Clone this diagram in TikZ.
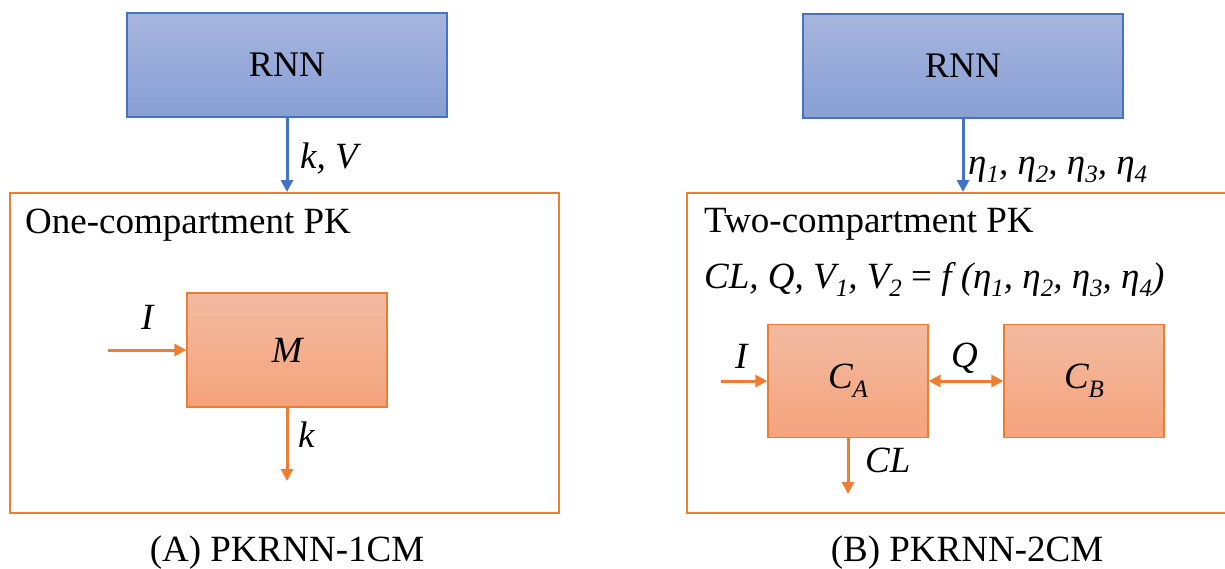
\documentclass[tikz,border=0pt]{standalone}
\usepackage{fontspec}
\setmainfont{Liberation Serif}
\usetikzlibrary{arrows.meta}
\definecolor{bluebd}{HTML}{4472C4}
\definecolor{bluetop}{HTML}{A6B5DE}
\definecolor{bluebot}{HTML}{889FD4}
\definecolor{orbd}{HTML}{ED7D31}
\definecolor{ortop}{HTML}{F2BBA1}
\definecolor{orbot}{HTML}{F5A37C}
\newcommand{\sbs}[1]{\raisebox{-0.24em}{\fontsize{25}{30}\selectfont #1}}
\begin{document}
\begin{tikzpicture}[x=1pt,y=-1pt,
  every node/.style={font=\fontsize{37}{44}\selectfont},
  rnnbox/.style={draw=bluebd, line width=1.5pt, top color=bluetop, bottom color=bluebot,
    minimum width=320pt, minimum height=104pt, inner sep=0pt, font=\fontsize{36}{43}\selectfont},
  pkbox/.style={draw=orbd, line width=2pt, inner sep=0pt},
  compbox/.style={draw=orbd, line width=1.2pt, top color=ortop, bottom color=orbot,
    inner sep=0pt, font=\fontsize{37}{44}\selectfont\itshape},
  lbl/.style={inner sep=0pt, anchor=base west, font=\fontsize{37}{44}\selectfont\itshape},
  ttl/.style={inner sep=0pt, anchor=base west},
  captext/.style={inner sep=0pt, anchor=base},
  bluearrow/.style={draw=bluebd, line width=3pt, -{Triangle[length=12pt,width=12pt]}},
  orarrow/.style={draw=orbd, line width=3pt, -{Triangle[length=12pt,width=12pt]}},
  orbiarrow/.style={draw=orbd, line width=3pt, {Triangle[length=12pt,width=12pt]}-{Triangle[length=12pt,width=12pt]}}
]
\useasboundingbox (0,0) rectangle (1225,568);

% ---------- (A) ----------
\node[rnnbox] (rnnA) at (287,65) {RNN};
\node[pkbox, minimum width=549pt, minimum height=320pt] (pkA) at (284.5,353) {};
\draw[bluearrow] (rnnA.south) -- (rnnA.south |- pkA.north);
\node[lbl] (kvA) at (300,168) {k, V};
\node[ttl] (titleA) at (25,233) {One-compartment PK};
\node[compbox, minimum width=200pt, minimum height=114pt] (mA) at (287,350) {M};
\coordinate (inA) at (108,350);
\coordinate (outA) at (287,481);
\draw[orarrow] (inA) -- (mA.west);
\draw[orarrow] (mA.south) -- (outA);
\node[lbl] (iA) at (141,329) {I};
\node[lbl] (kA) at (298,447) {k};
\node[captext] (capA) at (287,561) {(A) PKRNN-1CM};

% ---------- (B) ----------
\node[rnnbox] (rnnB) at (963,66) {RNN};
\node[pkbox, minimum width=545pt, minimum height=320pt] (pkB) at (959.5,353) {};
\draw[bluearrow] (rnnB.south) -- (rnnB.south |- pkB.north);
\node[lbl] (etaB) at (968,174) {η\sbs{1}, η\sbs{2}, η\sbs{3}, η\sbs{4}};
\node[ttl] (titleB) at (704,232) {Two-compartment PK};
\node[lbl] (formB) at (704,288) {CL, Q, V\sbs{1}, V\sbs{2} {\upshape=} f (η\sbs{1}, η\sbs{2}, η\sbs{3}, η\sbs{4})};
\node[compbox, minimum width=160pt, minimum height=113pt] (cA) at (848,381) {C\sbs{A}};
\node[compbox, minimum width=160pt, minimum height=113pt] (cB) at (1084,381) {C\sbs{B}};
\coordinate (inB) at (721,381);
\coordinate (outB) at (848,494);
\draw[orarrow] (inB) -- (cA.west);
\draw[orbiarrow] (cA.east) -- (cB.west);
\draw[orarrow] (cA.south) -- (outB);
\node[lbl] (iB) at (735,368) {I};
\node[lbl] (qB) at (951,367) {Q};
\node[lbl] (clB) at (865,472) {CL};
\node[captext] (capB) at (967,561) {(B) PKRNN-2CM};
\end{tikzpicture}
\end{document}
